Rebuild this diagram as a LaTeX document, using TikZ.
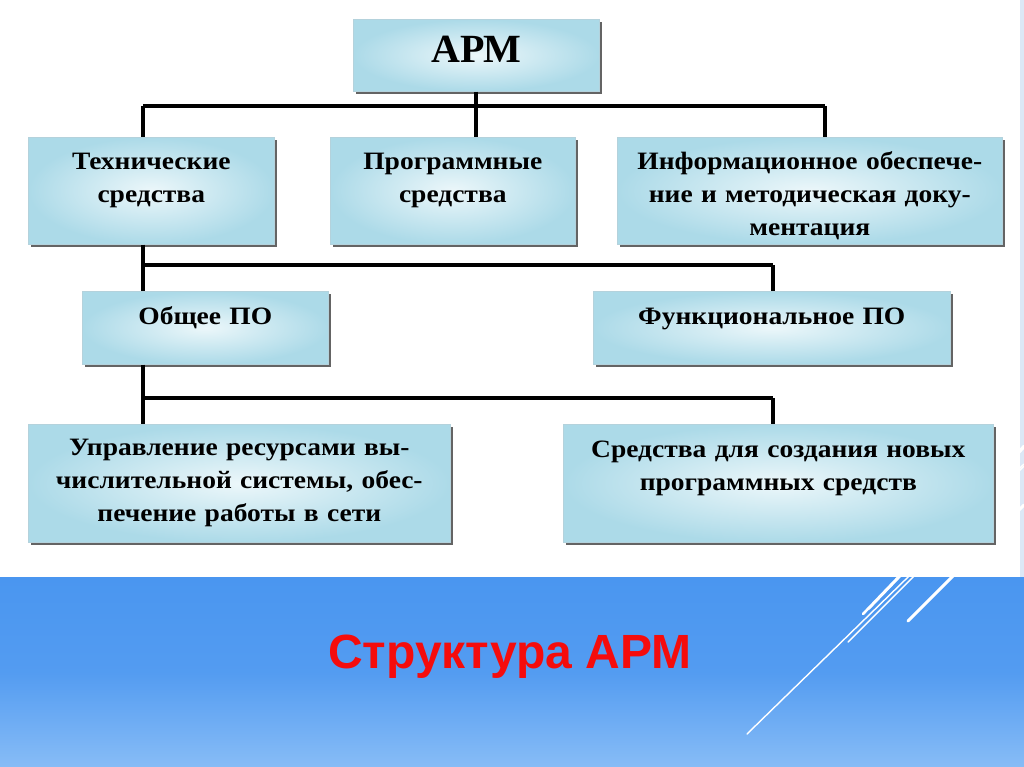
\documentclass[tikz,border=0pt]{standalone}
\usepackage{fontspec}
\setmainfont{Liberation Serif}
\newfontfamily\boxfont[FakeStretch=1.1]{Liberation Serif}
\newfontfamily\titlefont{Liberation Sans}
\usetikzlibrary{calc,shadows}
\definecolor{bandtop}{RGB}{74,150,240}
\definecolor{bandbot}{RGB}{135,188,246}
\definecolor{boxin}{RGB}{236,247,250}
\definecolor{boxout}{RGB}{172,218,232}
\definecolor{boxline}{RGB}{180,210,220}
\definecolor{shadowgray}{RGB}{100,100,100}
\definecolor{striptint}{RGB}{220,232,246}
\definecolor{titlered}{RGB}{245,12,12}
\begin{document}
\begin{tikzpicture}[x=1pt,y=-1pt,
  box/.style={draw=boxline, line width=0.6pt, inner sep=0pt, anchor=north west,
    inner color=boxin, outer color=boxout,
    general shadow={fill=shadowgray, shadow xshift=3pt, shadow yshift=-3pt}},
  lbl/.style={font=\boxfont\bfseries\fontsize{25}{33}\selectfont, text width=#1, align=center, inner sep=0pt, anchor=base},
  conn/.style={line width=3.5pt, black},
  deco/.style={white, line cap=round}
]
\useasboundingbox (0,0) rectangle (1024,767);
% backgrounds
\fill[striptint] (0,0) rectangle (1024,577);
\shade[top color=bandtop, bottom color=bandbot, middle color=bandtop!85!bandbot] (0,577) rectangle (1024,767);
% decorative lines
\draw[deco, line width=1.4pt] (747,734) -- (1024,464);
\draw[deco, line width=1.4pt] (848,642) -- (1024,466);
\draw[deco, line width=2.6pt] (863,614) -- (1024,446);
\draw[deco, line width=1.6pt] (869,609) -- (1024,448);
\draw[deco, line width=3pt] (908,621) -- (1024,505);
\fill[white] (0,0) rectangle (1020,577);

% boxes
\node[box, minimum width=246pt, minimum height=72pt] (apm) at (353,19) {};
\node[box, minimum width=246pt, minimum height=107pt] (tech) at (28,137) {};
\node[box, minimum width=245pt, minimum height=107pt] (prog) at (330,137) {};
\node[box, minimum width=385pt, minimum height=107pt] (info) at (617,137) {};
\node[box, minimum width=246pt, minimum height=73pt] (obsh) at (82,291) {};
\node[box, minimum width=357pt, minimum height=73pt] (func) at (593,291) {};
\node[box, minimum width=422pt, minimum height=118pt] (upr) at (28,424) {};
\node[box, minimum width=430pt, minimum height=118pt] (sred) at (563,424) {};

% labels
\node[lbl=240pt, font=\rmfamily\bfseries\fontsize{40}{42}\selectfont] (apmT) at ($(apm.north)+(0,44)$) {АРМ};
\node[lbl=244pt] (techT) at ($(tech.north)+(0,33)$) {Технические\\средства};
\node[lbl=244pt] (progT) at ($(prog.north)+(0,33)$) {Программные\\средства};
\node[lbl=384pt] (infoT) at ($(info.north)+(0,33)$) {Информационное обеспече-\\ние и методическая доку-\\ментация};
\node[lbl=244pt] (obshT) at ($(obsh.north)+(0,33)$) {Общее ПО};
\node[lbl=355pt] (funcT) at ($(func.north)+(0,33)$) {Функциональное ПО};
\node[lbl=422pt] (uprT) at ($(upr.north)+(0,31)$) {Управление ресурсами вы-\\числительной системы, обес-\\печение работы в сети};
\node[lbl=430pt] (sredT) at ($(sred.north)+(0,33)$) {Средства для создания новых\\программных средств};

% connectors
\coordinate (a1) at (143,106);
\coordinate (a2) at (476,106);
\coordinate (a3) at (825,106);
\draw[conn] (apm.south -| a2) -- (a2);
\draw[conn] (a1) -- (a3);
\draw[conn] (a1) -- (a1 |- tech.north);
\draw[conn] (a2) -- (a2 |- prog.north);
\draw[conn] (a3) -- (a3 |- info.north);

\coordinate (b1) at (143,265);
\coordinate (b2) at (773,265);
\draw[conn] (tech.south -| b1) -- (b1);
\draw[conn] (b1) -- (b2);
\draw[conn] (b1) -- (b1 |- obsh.north);
\draw[conn] (b2) -- (b2 |- func.north);

\coordinate (c1) at (143,398);
\coordinate (c2) at (773,398);
\draw[conn] (obsh.south -| c1) -- (c1);
\draw[conn] (c1) -- (c2);
\draw[conn] (c1) -- (c1 |- upr.north);
\draw[conn] (c2) -- (c2 |- sred.north);

% title
\node[font=\titlefont\bfseries\fontsize{48}{52}\selectfont, text=titlered, anchor=base, inner sep=0pt] (title) at (510,668) {Структура АРМ};
\end{tikzpicture}
\end{document}
